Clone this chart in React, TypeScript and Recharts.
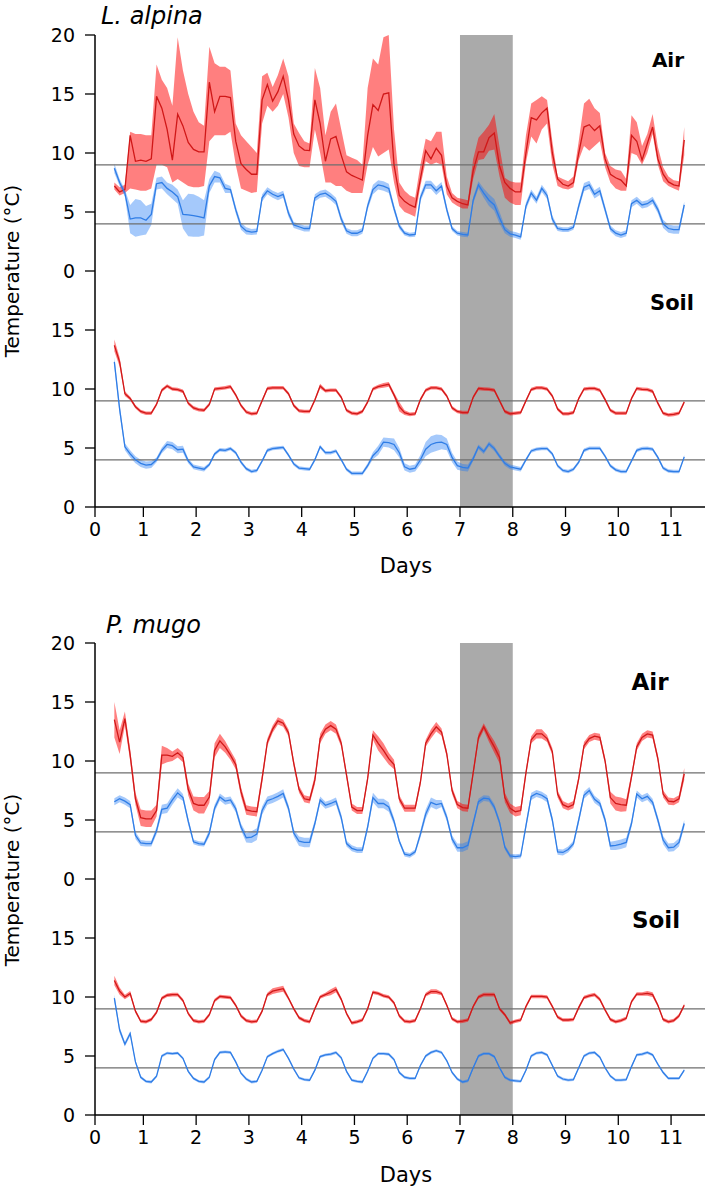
import React from 'react';
import { ComposedChart, Area, Line, XAxis, YAxis, ReferenceArea, ReferenceLine } from 'recharts';

// ---------- axes / labels ----------
const DAYS: number[] = Array.from({ length: 109 }, (_, i) => Math.round((0.45 + 0.1 * i) * 100) / 100);
const X_DOMAIN: [number, number] = [0.0834, 11.643];
const X_TICKS = [0.0834, 1, 2, 3, 4, 5, 6, 7, 8, 9, 10, 11];
const AIR_Y_TICKS = [0, 5, 10, 15, 20];
const SOIL_Y_TICKS = [0, 5, 10, 15];
const REF_RED = 9;
const REF_BLUE = 4;
const SHADE_FROM = 7;
const SHADE_TO = 8;

// ---------- L. alpina, air ----------
const LA_AIR_RED = [
  7.2, 6.7, 6.9, 11.5, 9.3, 9.4,
  9.3, 9.5, 14.8, 13.8, 12.0, 9.4, 13.3, 12.3, 10.9, 10.3,
  10.1, 10.1, 16.0, 13.5, 14.8, 14.8, 14.7, 11.0, 9.1, 8.6,
  8.2, 8.2, 14.5, 15.8, 14.4, 15.2, 16.5, 14.5, 11.6, 10.6,
  10.25, 10.2, 14.5, 12.5, 9.3, 11.2, 11.4, 9.8, 8.4, 8.1,
  7.9, 7.7, 11.5, 14.1, 13.6, 15.0, 15.1, 9.0, 6.4, 5.9,
  5.6, 5.4, 7.8, 10.2, 9.5, 10.4, 9.8, 7.2, 6.2, 5.9,
  5.7, 5.6, 8.5, 10.1, 10.1, 11.3, 11.7, 8.9, 7.5, 7.0,
  6.7, 6.7, 10.0, 13.0, 12.8, 13.4, 13.8, 10.0, 7.8, 7.35,
  7.2, 7.5, 10.0, 12.2, 12.4, 11.9, 12.3, 9.5, 8.2, 7.9,
  7.7, 7.2, 11.5, 11.0, 9.4, 10.8, 12.2, 9.5, 8.2, 7.55,
  7.3, 7.2, 11.1,
];
const LA_AIR_RED_LO = [
  6.9, 6.4, 6.6, 7.0, 6.9, 6.8,
  6.8, 7.0, 9.0, 9.0, 8.8, 7.5, 7.8, 7.5, 7.2, 7.1,
  7.1, 7.2, 11.0, 11.5, 11.5, 11.5, 11.8, 9.0, 7.0, 6.8,
  6.6, 6.7, 12.5, 14.0, 13.5, 14.0, 15.0, 13.0, 10.0, 8.9,
  8.8, 8.8, 12.0, 10.0, 7.5, 7.5, 7.2, 7.2, 6.8, 6.6,
  6.6, 6.6, 9.0, 10.5, 9.7, 10.0, 10.3, 7.5, 5.5, 5.0,
  4.8, 4.6, 7.2, 9.3, 9.0, 9.2, 9.0, 6.5, 5.8, 5.5,
  5.3, 5.3, 7.8, 9.4, 9.5, 10.2, 10.3, 8.0, 6.2, 5.8,
  5.6, 5.6, 9.2, 11.4, 10.8, 12.0, 12.5, 9.0, 7.2, 7.0,
  6.9, 7.1, 9.4, 10.6, 10.2, 10.6, 11.0, 8.8, 7.5, 7.0,
  6.8, 6.8, 10.0, 9.8, 9.0, 10.0, 11.6, 9.0, 7.6, 7.2,
  7.0, 6.8, 9.8,
];
const LA_AIR_RED_HI = [
  7.5, 7.1, 7.3, 11.8, 11.6, 11.6,
  11.5, 11.5, 17.5, 16.2, 15.5, 14.0, 19.8, 17.0, 15.0, 13.5,
  12.6, 12.3, 19.0, 17.6, 17.3, 17.3, 17.0, 12.5, 11.5, 11.0,
  10.5, 10.0, 16.5, 16.8, 15.6, 16.6, 18.0, 16.5, 12.5, 11.7,
  11.0, 10.8, 17.2, 15.5, 11.5, 13.5, 14.2, 12.0, 9.8, 9.6,
  9.4, 9.0, 15.5, 18.0, 17.5, 19.8, 20.0, 12.0, 7.5, 6.8,
  6.4, 6.2, 9.0, 11.2, 11.0, 11.8, 11.8, 8.0, 6.6, 6.2,
  6.1, 6.0, 9.5, 11.3, 11.8, 12.4, 13.3, 10.5, 7.9, 7.6,
  7.5, 7.5, 11.5, 14.2, 14.5, 14.8, 14.5, 11.0, 8.0, 7.8,
  7.6, 8.0, 11.0, 14.2, 14.6, 13.8, 13.4, 10.0, 8.9, 8.6,
  8.5, 7.8, 13.2, 12.6, 10.6, 11.6, 13.3, 10.5, 8.8, 8.0,
  7.7, 7.6, 12.2,
];
const LA_AIR_BLUE = [
  8.7, 7.5, 6.6, 4.4, 4.5, 4.5,
  4.3, 4.8, 7.4, 7.5, 7.0, 6.7, 6.3, 4.8, 4.75, 4.7,
  4.6, 4.5, 7.2, 8.0, 7.9, 7.0, 6.9, 5.2, 3.8, 3.4,
  3.3, 3.35, 6.2, 6.8, 6.5, 6.3, 6.5, 4.9, 3.9, 3.75,
  3.6, 3.6, 6.2, 6.5, 6.6, 6.3, 5.9, 4.4, 3.4, 3.2,
  3.2, 3.4, 5.5, 6.9, 7.3, 7.2, 7.0, 5.3, 3.8, 3.2,
  3.05, 3.1, 6.2, 7.3, 7.3, 6.8, 7.2, 5.2, 3.6, 3.2,
  3.1, 3.05, 6.0, 7.3, 6.6, 6.0, 5.6, 4.5, 3.5, 3.15,
  3.05, 2.9, 5.5, 6.6, 6.0, 7.0, 6.4, 4.4, 3.6, 3.5,
  3.5, 3.7, 5.5, 7.1, 7.3, 6.5, 6.8, 5.2, 3.6, 3.2,
  3.05, 3.2, 5.7, 6.0, 5.6, 5.7, 6.0, 5.2, 4.0, 3.6,
  3.5, 3.5, 5.6,
];
const LA_AIR_BLUE_SPREAD = [
  0.4, 0.3, 0.3, 1.2, 1.6, 1.5,
  1.2, 0.9, 0.5, 0.5, 0.5, 0.6, 0.6, 1.2, 1.8, 1.8,
  1.7, 1.5, 0.6, 0.5, 0.4, 0.4, 0.3, 0.3, 0.3, 0.3,
  0.25, 0.25, 0.3, 0.3, 0.3, 0.3, 0.3, 0.3, 0.25, 0.25,
  0.25, 0.25, 0.3, 0.3, 0.3, 0.3, 0.3, 0.3, 0.25, 0.25,
  0.25, 0.25, 0.3, 0.4, 0.4, 0.4, 0.4, 0.3, 0.25, 0.2,
  0.2, 0.2, 0.3, 0.35, 0.35, 0.35, 0.35, 0.3, 0.2, 0.2,
  0.2, 0.2, 0.3, 0.3, 0.4, 0.5, 0.5, 0.5, 0.3, 0.25,
  0.25, 0.25, 0.3, 0.3, 0.3, 0.3, 0.3, 0.3, 0.2, 0.2,
  0.2, 0.2, 0.3, 0.35, 0.35, 0.35, 0.35, 0.3, 0.25, 0.25,
  0.25, 0.25, 0.3, 0.3, 0.3, 0.3, 0.3, 0.3, 0.35, 0.35,
  0.35, 0.35, 0.3,
];

// ---------- L. alpina, soil ----------
const LA_SOIL_RED = [
  13.7, 12.3, 9.6, 9.2, 8.5, 8.1,
  7.95, 7.95, 8.7, 9.9, 10.25, 10.0, 9.95, 9.8, 8.8, 8.4,
  8.25, 8.2, 8.7, 10.0, 10.05, 10.1, 10.2, 9.5, 8.6, 8.05,
  7.9, 7.95, 9.0, 10.05, 10.1, 10.1, 10.1, 9.6, 8.6, 8.15,
  8.1, 8.1, 9.07, 10.25, 9.85, 9.9, 9.9, 9.3, 8.2, 7.95,
  7.9, 8.1, 8.9, 10.0, 10.2, 10.3, 10.4, 9.5, 8.5, 8.0,
  7.85, 7.9, 9.1, 9.9, 10.1, 10.1, 10.0, 9.4, 8.4, 8.1,
  8.0, 8.0, 9.3, 10.05, 10.0, 9.97, 9.9, 9.0, 8.1, 7.9,
  7.95, 8.0, 9.0, 9.95, 10.1, 10.1, 10.0, 9.4, 8.3, 7.9,
  7.9, 8.0, 9.2, 10.0, 10.05, 10.05, 9.9, 9.1, 8.2, 7.95,
  7.95, 7.95, 9.2, 10.05, 9.97, 9.95, 9.8, 8.8, 7.95, 7.8,
  7.85, 7.95, 8.9,
];
const LA_SOIL_RED_SPREAD = [
  0.5, 0.4, 0.2, 0.15, 0.15, 0.15,
  0.15, 0.15, 0.15, 0.15, 0.15, 0.15, 0.15, 0.15, 0.15, 0.15,
  0.15, 0.15, 0.15, 0.15, 0.15, 0.15, 0.15, 0.15, 0.15, 0.15,
  0.15, 0.15, 0.15, 0.15, 0.15, 0.15, 0.15, 0.15, 0.15, 0.15,
  0.15, 0.15, 0.15, 0.2, 0.15, 0.15, 0.15, 0.15, 0.15, 0.15,
  0.15, 0.15, 0.15, 0.15, 0.15, 0.2, 0.2, 0.2, 0.4, 0.2,
  0.15, 0.15, 0.15, 0.15, 0.15, 0.15, 0.15, 0.15, 0.15, 0.15,
  0.15, 0.15, 0.15, 0.15, 0.15, 0.15, 0.15, 0.15, 0.15, 0.15,
  0.15, 0.15, 0.15, 0.15, 0.15, 0.15, 0.15, 0.15, 0.15, 0.15,
  0.15, 0.15, 0.15, 0.15, 0.15, 0.15, 0.15, 0.15, 0.15, 0.15,
  0.15, 0.15, 0.15, 0.15, 0.15, 0.15, 0.15, 0.15, 0.15, 0.15,
  0.15, 0.15, 0.15,
];
const LA_SOIL_BLUE = [
  12.3, 8.3, 5.1, 4.5, 4.0, 3.7,
  3.55, 3.6, 4.0, 4.8, 5.3, 5.2, 4.85, 4.9, 3.9, 3.4,
  3.3, 3.2, 3.6, 4.5, 4.85, 4.8, 4.95, 4.6, 3.8, 3.25,
  3.0, 3.1, 3.9, 4.8, 4.95, 5.0, 5.05, 4.4, 3.65, 3.3,
  3.25, 3.2, 4.0, 5.1, 4.6, 4.6, 4.75, 4.0, 3.2, 2.85,
  2.85, 2.85, 3.5, 4.35, 4.8, 5.5, 5.45, 5.3, 4.6, 3.4,
  3.2, 3.3, 4.0, 4.9, 5.3, 5.45, 5.5, 5.3, 4.2, 3.5,
  3.35, 3.3, 4.1, 5.1, 4.7, 5.35, 4.95, 4.3, 3.7, 3.4,
  3.3, 3.2, 4.0, 4.75, 4.9, 4.95, 4.95, 4.5, 3.5, 3.1,
  3.0, 3.2, 3.8, 4.8, 4.97, 4.97, 4.97, 4.3, 3.5, 3.15,
  3.0, 3.0, 3.9, 4.8, 4.95, 4.97, 4.9, 4.2, 3.3, 3.05,
  3.0, 3.0, 4.25,
];
const LA_SOIL_BLUE_SPREAD = [
  0.4, 0.4, 0.3, 0.3, 0.3, 0.3,
  0.3, 0.3, 0.2, 0.25, 0.3, 0.3, 0.3, 0.3, 0.2, 0.2,
  0.2, 0.2, 0.15, 0.15, 0.15, 0.15, 0.15, 0.15, 0.15, 0.15,
  0.15, 0.15, 0.15, 0.15, 0.15, 0.15, 0.15, 0.15, 0.15, 0.15,
  0.15, 0.15, 0.15, 0.15, 0.15, 0.15, 0.15, 0.15, 0.15, 0.15,
  0.15, 0.15, 0.2, 0.3, 0.4, 0.4, 0.4, 0.5, 0.4, 0.3,
  0.3, 0.3, 0.4, 0.6, 0.7, 0.7, 0.6, 0.5, 0.4, 0.35,
  0.3, 0.3, 0.2, 0.2, 0.2, 0.2, 0.2, 0.2, 0.2, 0.2,
  0.2, 0.2, 0.15, 0.15, 0.15, 0.15, 0.15, 0.15, 0.15, 0.15,
  0.15, 0.15, 0.15, 0.15, 0.15, 0.15, 0.15, 0.15, 0.15, 0.15,
  0.15, 0.15, 0.15, 0.15, 0.15, 0.15, 0.15, 0.15, 0.15, 0.15,
  0.15, 0.15, 0.15,
];

// ---------- P. mugo, air ----------
const PM_AIR_RED = [
  13.5, 11.6, 13.6, 10.5, 6.8, 5.2,
  5.1, 5.1, 5.8, 10.5, 10.5, 10.4, 10.7, 10.3, 7.6, 6.4,
  6.25, 6.25, 6.95, 10.9, 11.7, 11.2, 10.5, 9.7, 7.4, 5.85,
  5.75, 5.7, 8.5, 11.6, 12.7, 13.4, 13.2, 12.4, 9.8, 7.6,
  6.8, 6.7, 8.4, 11.9, 12.7, 13.0, 12.7, 11.5, 8.8, 6.1,
  5.8, 5.8, 8.5, 12.2, 11.5, 10.9, 10.2, 9.7, 6.8, 6.0,
  6.0, 6.0, 8.2, 11.5, 12.3, 12.9, 12.45, 10.6, 7.5, 6.3,
  6.05, 6.0, 9.0, 12.0, 12.9, 12.0, 11.2, 10.3, 6.9, 6.0,
  5.7, 5.8, 9.0, 11.8, 12.3, 12.3, 11.9, 10.8, 7.2, 6.3,
  6.1, 6.3, 8.5, 11.3, 11.9, 12.1, 12.0, 10.0, 6.9, 6.4,
  6.3, 6.25, 8.65, 11.2, 12.0, 12.3, 12.2, 10.2, 7.2, 6.6,
  6.55, 6.8, 8.9,
];
const PM_AIR_RED_SPREAD = [
  1.5, 1.0, 0.6, 0.5, 0.5, 0.7,
  0.7, 0.7, 0.5, 0.8, 0.6, 0.4, 0.4, 0.4, 0.5, 0.6,
  0.7, 0.7, 0.5, 0.6, 0.6, 0.5, 0.4, 0.4, 0.4, 0.4,
  0.4, 0.4, 0.4, 0.3, 0.3, 0.3, 0.3, 0.3, 0.3, 0.3,
  0.3, 0.3, 0.4, 0.4, 0.4, 0.4, 0.4, 0.3, 0.3, 0.3,
  0.3, 0.3, 0.3, 0.4, 0.6, 0.6, 0.5, 0.4, 0.3, 0.3,
  0.3, 0.3, 0.3, 0.3, 0.4, 0.4, 0.3, 0.3, 0.3, 0.3,
  0.3, 0.3, 0.3, 0.3, 0.3, 0.4, 0.5, 0.5, 0.4, 0.4,
  0.4, 0.4, 0.3, 0.3, 0.4, 0.4, 0.3, 0.3, 0.3, 0.3,
  0.3, 0.3, 0.3, 0.3, 0.3, 0.3, 0.3, 0.3, 0.5, 0.6,
  0.6, 0.5, 0.3, 0.3, 0.3, 0.3, 0.3, 0.3, 0.3, 0.3,
  0.3, 0.3, 0.5,
];
const PM_AIR_BLUE = [
  6.55, 6.8, 6.6, 6.3, 3.7, 3.05,
  3.0, 3.0, 4.1, 5.9, 6.0, 6.7, 7.3, 6.9, 4.9, 3.15,
  3.0, 2.95, 3.9, 6.0, 6.95, 6.6, 6.7, 5.95, 4.4, 3.5,
  3.55, 3.8, 5.8, 6.65, 6.8, 7.0, 7.25, 6.0, 3.9, 3.2,
  3.1, 3.1, 4.7, 6.7, 6.25, 6.4, 6.6, 5.2, 3.0, 2.6,
  2.45, 2.45, 4.4, 6.9, 6.4, 6.4, 6.1, 4.9, 3.2, 2.1,
  2.0, 2.3, 3.8, 5.5, 6.5, 6.3, 6.4, 5.2, 3.4, 2.65,
  2.65, 2.85, 4.7, 6.55, 6.85, 6.8, 6.1, 4.8, 2.7, 1.95,
  1.9, 1.95, 4.5, 7.0, 7.25, 7.1, 6.8, 5.0, 2.3, 2.25,
  2.5, 3.0, 5.0, 7.1, 7.5, 6.75, 6.4, 5.0, 2.8, 2.85,
  2.95, 3.1, 4.7, 7.2, 6.8, 7.0, 6.5, 5.0, 3.3, 2.65,
  2.7, 3.1, 4.7,
];
const PM_AIR_BLUE_SPREAD = [
  0.3, 0.3, 0.3, 0.3, 0.3, 0.25,
  0.25, 0.25, 0.3, 0.4, 0.4, 0.4, 0.4, 0.3, 0.3, 0.2,
  0.2, 0.2, 0.3, 0.3, 0.3, 0.3, 0.3, 0.3, 0.3, 0.4,
  0.5, 0.5, 0.35, 0.35, 0.35, 0.35, 0.35, 0.3, 0.3, 0.4,
  0.4, 0.4, 0.3, 0.3, 0.3, 0.3, 0.3, 0.3, 0.25, 0.25,
  0.25, 0.25, 0.3, 0.4, 0.4, 0.4, 0.4, 0.3, 0.2, 0.2,
  0.2, 0.2, 0.3, 0.4, 0.4, 0.4, 0.3, 0.3, 0.3, 0.35,
  0.35, 0.35, 0.3, 0.25, 0.25, 0.25, 0.25, 0.25, 0.2, 0.2,
  0.2, 0.2, 0.3, 0.3, 0.3, 0.3, 0.3, 0.3, 0.25, 0.25,
  0.25, 0.25, 0.3, 0.3, 0.3, 0.3, 0.3, 0.3, 0.35, 0.4,
  0.4, 0.4, 0.3, 0.3, 0.3, 0.3, 0.3, 0.3, 0.35, 0.35,
  0.35, 0.35, 0.3,
];

// ---------- P. mugo, soil ----------
const PM_SOIL_RED = [
  11.4, 10.5, 10.0, 10.3, 8.8, 7.95,
  7.9, 8.1, 8.7, 9.9, 10.15, 10.2, 10.2, 9.7, 8.6, 8.0,
  7.9, 7.95, 8.5, 9.7, 10.05, 10.0, 9.95, 9.3, 8.4, 8.0,
  7.9, 7.95, 8.8, 10.2, 10.5, 10.6, 10.7, 9.9, 9.0, 8.25,
  8.0, 7.9, 9.0, 10.0, 10.2, 10.4, 10.65, 9.8, 8.6, 7.8,
  7.9, 8.05, 9.0, 10.4, 10.3, 10.1, 10.0, 9.5, 8.4, 7.95,
  7.9, 8.0, 9.0, 10.2, 10.45, 10.45, 10.3, 9.3, 8.15, 7.9,
  7.95, 8.05, 9.2, 10.0, 10.2, 10.2, 10.2, 9.0, 8.5, 7.8,
  7.95, 8.05, 9.2, 10.05, 10.05, 10.05, 10.0, 9.2, 8.3, 8.05,
  8.05, 8.1, 9.1, 9.95, 10.1, 10.2, 9.8, 8.9, 8.1, 7.9,
  8.0, 8.2, 9.6, 10.25, 10.25, 10.3, 10.2, 9.3, 8.1, 7.9,
  8.0, 8.4, 9.3,
];
const PM_SOIL_RED_SPREAD = [
  0.4, 0.3, 0.2, 0.2, 0.15, 0.15,
  0.15, 0.15, 0.15, 0.15, 0.15, 0.15, 0.15, 0.15, 0.15, 0.15,
  0.15, 0.15, 0.15, 0.15, 0.15, 0.15, 0.15, 0.15, 0.15, 0.15,
  0.15, 0.15, 0.15, 0.15, 0.25, 0.25, 0.25, 0.15, 0.15, 0.15,
  0.15, 0.15, 0.15, 0.15, 0.15, 0.25, 0.25, 0.15, 0.15, 0.15,
  0.15, 0.15, 0.15, 0.15, 0.15, 0.15, 0.15, 0.15, 0.15, 0.15,
  0.15, 0.15, 0.15, 0.15, 0.2, 0.2, 0.15, 0.15, 0.15, 0.15,
  0.15, 0.15, 0.15, 0.15, 0.15, 0.15, 0.15, 0.15, 0.15, 0.15,
  0.15, 0.15, 0.15, 0.15, 0.15, 0.15, 0.15, 0.15, 0.15, 0.15,
  0.15, 0.15, 0.15, 0.15, 0.15, 0.15, 0.15, 0.15, 0.15, 0.15,
  0.15, 0.15, 0.15, 0.15, 0.15, 0.2, 0.2, 0.15, 0.15, 0.15,
  0.15, 0.15, 0.15,
];
const PM_SOIL_BLUE = [
  9.9, 7.2, 6.0, 6.9, 4.5, 3.2,
  2.85, 2.8, 3.3, 5.0, 5.25, 5.2, 5.25, 4.8, 3.7, 3.1,
  2.85, 2.8, 3.2, 4.7, 5.3, 5.35, 5.3, 4.5, 3.55, 3.05,
  2.8, 2.85, 3.8, 4.95, 5.2, 5.4, 5.55, 4.8, 3.9, 3.15,
  3.0, 2.95, 3.8, 4.95, 5.1, 5.15, 5.3, 4.85, 3.7, 2.95,
  2.85, 2.8, 3.7, 4.8, 5.2, 5.2, 5.15, 4.7, 3.6, 3.2,
  3.1, 3.1, 4.2, 5.0, 5.3, 5.45, 5.3, 4.6, 3.6, 3.05,
  2.8, 2.9, 4.0, 5.0, 5.2, 5.2, 4.95, 4.0, 3.2, 2.95,
  2.9, 2.85, 3.8, 5.0, 5.25, 5.3, 5.1, 4.2, 3.3, 3.05,
  2.95, 3.0, 4.0, 5.0, 5.25, 5.3, 4.9, 4.0, 3.3, 2.95,
  2.95, 3.0, 4.1, 5.1, 5.15, 5.3, 5.1, 4.3, 3.6, 3.1,
  3.1, 3.1, 3.8,
];
const PM_SOIL_BLUE_SPREAD = [
  0.3, 0.25, 0.2, 0.2, 0.15, 0.12,
  0.12, 0.12, 0.12, 0.12, 0.12, 0.12, 0.12, 0.12, 0.12, 0.12,
  0.12, 0.12, 0.12, 0.12, 0.12, 0.12, 0.12, 0.12, 0.12, 0.12,
  0.12, 0.12, 0.12, 0.12, 0.12, 0.12, 0.12, 0.12, 0.12, 0.12,
  0.12, 0.12, 0.12, 0.12, 0.12, 0.12, 0.12, 0.12, 0.12, 0.12,
  0.12, 0.12, 0.12, 0.12, 0.12, 0.12, 0.12, 0.12, 0.12, 0.12,
  0.12, 0.12, 0.12, 0.12, 0.12, 0.12, 0.12, 0.12, 0.12, 0.12,
  0.12, 0.12, 0.12, 0.12, 0.12, 0.12, 0.12, 0.12, 0.12, 0.12,
  0.12, 0.12, 0.12, 0.12, 0.12, 0.12, 0.12, 0.12, 0.12, 0.12,
  0.12, 0.12, 0.12, 0.12, 0.12, 0.12, 0.12, 0.12, 0.12, 0.12,
  0.12, 0.12, 0.12, 0.12, 0.12, 0.12, 0.12, 0.12, 0.12, 0.12,
  0.12, 0.12, 0.12,
];

// ---------- helpers ----------
type Row = { d: number; rm: number; rb: [number, number]; bm: number; bb: [number, number] };

function rowsFrom(
  red: number[], redLo: number[], redHi: number[],
  blue: number[], blueSpread: number[]
): Row[] {
  return DAYS.map((d, i) => ({
    d,
    rm: red[i],
    rb: [redLo[i], redHi[i]],
    bm: blue[i],
    bb: [blue[i] - blueSpread[i], blue[i] + blueSpread[i]],
  }));
}
const minus = (a: number[], s: number[]) => a.map((v, i) => v - s[i]);
const plus = (a: number[], s: number[]) => a.map((v, i) => v + s[i]);

const LA_AIR_ROWS = rowsFrom(LA_AIR_RED, LA_AIR_RED_LO, LA_AIR_RED_HI, LA_AIR_BLUE, LA_AIR_BLUE_SPREAD);
const LA_SOIL_ROWS = rowsFrom(LA_SOIL_RED, minus(LA_SOIL_RED, LA_SOIL_RED_SPREAD), plus(LA_SOIL_RED, LA_SOIL_RED_SPREAD), LA_SOIL_BLUE, LA_SOIL_BLUE_SPREAD);
const PM_AIR_ROWS = rowsFrom(PM_AIR_RED, minus(PM_AIR_RED, PM_AIR_RED_SPREAD), plus(PM_AIR_RED, PM_AIR_RED_SPREAD), PM_AIR_BLUE, PM_AIR_BLUE_SPREAD);
const PM_SOIL_ROWS = rowsFrom(PM_SOIL_RED, minus(PM_SOIL_RED, PM_SOIL_RED_SPREAD), plus(PM_SOIL_RED, PM_SOIL_RED_SPREAD), PM_SOIL_BLUE, PM_SOIL_BLUE_SPREAD);

const FONT = '"DejaVu Sans", "Liberation Sans", sans-serif';
const RED_LINE = '#d01818';
const RED_FILL = '#ff0000';
const BLUE_LINE = '#2f7de6';
const BLUE_FILL = '#1f78f5';
const AXIS = { stroke: '#000', strokeWidth: 1.5 };

type PanelProps = {
  top: number; height: number; mt: number; mb: number;
  rows: Row[]; yTicks: number[]; xLabels: boolean;
};

function Panel({ top, height, mt, mb, rows, yTicks, xLabels }: PanelProps) {
  return (
    <div style={{ position: 'absolute', left: 0, top, width: 709, height }}>
      <ComposedChart width={709} height={height} data={rows} margin={{ top: mt, right: 4, bottom: mb, left: 0 }}>
        <XAxis
          dataKey="d" type="number" domain={X_DOMAIN} allowDataOverflow ticks={X_TICKS} interval={0}
          tickFormatter={(v: number) => String(Math.round(v))}
          tick={xLabels ? { fontSize: 19, fill: '#000', fontFamily: FONT } : false}
          tickLine={xLabels ? { stroke: '#000', strokeWidth: 1.3 } : false}
          tickSize={10} tickMargin={6} height={xLabels ? 40 : 0}
          axisLine={AXIS}
        />
        <XAxis xAxisId="top" orientation="top" type="number" domain={X_DOMAIN} allowDataOverflow
          tick={false} tickLine={false} height={0} axisLine={AXIS} />
        <YAxis
          type="number" domain={[0, 20]} allowDataOverflow ticks={yTicks} interval={0} width={95}
          tick={{ fontSize: 19, fill: '#000', fontFamily: FONT }}
          tickLine={{ stroke: '#000', strokeWidth: 1.3 }}
          tickSize={10} tickMargin={10} axisLine={AXIS}
        />
        <YAxis yAxisId="right" orientation="right" type="number" domain={[0, 20]}
          tick={false} tickLine={false} width={0} axisLine={AXIS} />
        <ReferenceArea x1={SHADE_FROM} x2={SHADE_TO} fill="#aaaaaa" fillOpacity={1} stroke="none" />
        <Area dataKey="rb" type="linear" stroke="none" fill={RED_FILL} fillOpacity={0.5} isAnimationActive={false} dot={false} activeDot={false} />
        <Area dataKey="bb" type="linear" stroke="none" fill={BLUE_FILL} fillOpacity={0.4} isAnimationActive={false} dot={false} activeDot={false} />
        <ReferenceLine y={REF_RED} stroke="#6e6e6e" strokeWidth={1.3} />
        <ReferenceLine y={REF_BLUE} stroke="#6e6e6e" strokeWidth={1.3} />
        <Line dataKey="rm" type="linear" stroke={RED_LINE} strokeWidth={1.3} dot={false} activeDot={false} isAnimationActive={false} />
        <Line dataKey="bm" type="linear" stroke={BLUE_LINE} strokeWidth={1.3} dot={false} activeDot={false} isAnimationActive={false} />
      </ComposedChart>
    </div>
  );
}

export default function App() {
  return (
    <div style={{ position: 'absolute', left: 0, top: 0, width: 709, height: 1192, background: '#fff', overflow: 'hidden' }}>
      <Panel top={0} height={290} mt={35} mb={19} rows={LA_AIR_ROWS} yTicks={AIR_Y_TICKS} xLabels={false} />
      <Panel top={261} height={340} mt={10} mb={54} rows={LA_SOIL_ROWS} yTicks={SOIL_Y_TICKS} xLabels={true} />
      <Panel top={600} height={290} mt={43} mb={11} rows={PM_AIR_ROWS} yTicks={AIR_Y_TICKS} xLabels={false} />
      <Panel top={869} height={323} mt={10} mb={37} rows={PM_SOIL_ROWS} yTicks={SOIL_Y_TICKS} xLabels={true} />
      <svg width={709} height={1192} style={{ position: 'absolute', left: 0, top: 0, pointerEvents: 'none' }}>
        <g fontFamily={FONT} fill="#000">
          <text x={101} y={24} fontSize={24} fontStyle="italic">L. alpina</text>
          <text x={106} y={633} fontSize={24} fontStyle="italic">P. mugo</text>
          <text x={668} y={67} fontSize={20} fontWeight="bold" textAnchor="middle">Air</text>
          <text x={672} y={310} fontSize={21} fontWeight="bold" textAnchor="middle">Soil</text>
          <text x={650} y={690} fontSize={23} fontWeight="bold" textAnchor="middle">Air</text>
          <text x={656} y={928} fontSize={23} fontWeight="bold" textAnchor="middle">Soil</text>
          <text x={406} y={573} fontSize={21} textAnchor="middle">Days</text>
          <text x={406} y={1182} fontSize={21} textAnchor="middle">Days</text>
          <text transform="translate(18.5, 271) rotate(-90)" fontSize={20} textAnchor="middle">Temperature (°C)</text>
          <text transform="translate(18.5, 880) rotate(-90)" fontSize={20} textAnchor="middle">Temperature (°C)</text>
        </g>
      </svg>
    </div>
  );
}
